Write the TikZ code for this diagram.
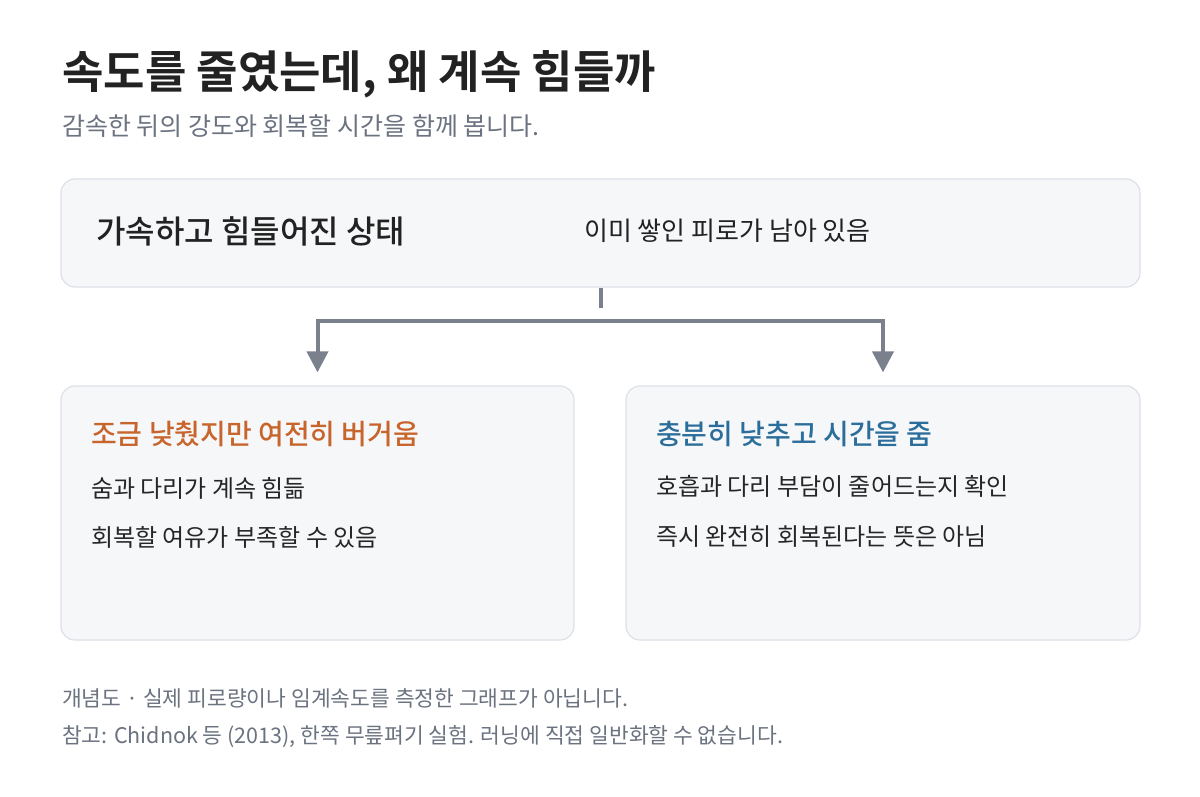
\documentclass[tikz,border=0pt]{standalone}
\usepackage{fontspec}
\setmainfont{Noto Sans CJK KR}[BoldFont={Noto Sans CJK KR Bold}, RawFeature=+palt]
\newfontfamily\medfont{Noto Sans CJK KR Medium}[RawFeature=+palt]
\usetikzlibrary{positioning, arrows.meta}
\definecolor{boxfill}{HTML}{F6F7F9}
\definecolor{boxline}{HTML}{DDE1E7}
\definecolor{linkgray}{HTML}{7B818C}
\definecolor{inkdark}{HTML}{222222}
\definecolor{inkbody}{HTML}{262626}
\definecolor{inkgray}{HTML}{6B7280}
\definecolor{warmorange}{HTML}{C8652C}
\definecolor{calmblue}{HTML}{2C6E9B}
\tikzset{panel/.style={draw=boxline, line width=1.2pt, fill=boxfill, rounded corners=14pt},
         lbl/.style={anchor=west, inner sep=0pt},
         headline/.style={lbl, font=\bfseries\fontsize{45}{49}\selectfont, text=inkdark},
         subline/.style={lbl, font=\fontsize{25}{29}\selectfont, text=inkgray},
         statetext/.style={lbl, font=\medfont\fontsize{32}{36}\selectfont, text=inkdark},
         notetext/.style={lbl, font=\fontsize{26}{30}\selectfont, text=inkdark},
         casehead/.style={lbl, font=\medfont\fontsize{28}{32}\selectfont},
         casetext/.style={lbl, font=\fontsize{24}{28}\selectfont, text=inkbody},
         foot/.style={lbl, font=\fontsize{21.5}{25}\selectfont, text=inkgray},
         flow/.style={draw=linkgray, line width=4pt, shorten <=13pt, shorten >=13pt},
         every arrow/.style={-{Triangle[width=21pt, length=21pt]}}}

\begin{document}
\begin{tikzpicture}[x=1pt, y=-1pt]
    \useasboundingbox[fill=white] (0,0) rectangle (1200,797);
    \node (title)[headline] at (62,74){속도를 줄였는데, 왜 계속 힘들까};
    \node (subtitle)[subline] at (62,126){감속한 뒤의 강도와 회복할 시간을 함께 봅니다.};
    % boxes
    \node (state)[panel, minimum width=1079pt, minimum height=108pt] at (600.5,233){};
    \node (slow)[panel, minimum width=513pt, minimum height=254pt] at (317.5,513){};
    \node (rest)[panel, minimum width=514pt, minimum height=254pt] at (883,513){};
    \node (statelbl)[statetext] at (96,231){가속하고 힘들어진 상태};
    \node (statenote)[notetext] at (584,231){이미 쌓인 피로가 남아 있음};
    \node (slowhead)[casehead, text=warmorange] at (91,434){조금 낮췄지만 여전히 버거움};
    \node (slowa)[casetext] at (91,488){숨과 다리가 계속 힘듦};
    \node (slowb)[casetext] at (91,537){회복할 여유가 부족할 수 있음};
    \node (resthead)[casehead, text=calmblue] at (656,434){충분히 낮추고 시간을 줌};
    \node (resta)[casetext] at (656,486){호흡과 다리 부담이 줄어드는지 확인};
    \node (restb)[casetext] at (656,537){즉시 완전히 회복된다는 뜻은 아님};
    % connectors
    \draw [flow, shorten <=0pt] (state.south) -- ++(0,33) coordinate (fork);
    \draw [flow, {Triangle[width=21pt, length=21pt]}-{Triangle[width=21pt, length=21pt]}] (slow.north) |- (fork) -| (rest.north);
    \node (foota)[foot] at (62,698){개념도 · 실제 피로량이나 임계속도를 측정한 그래프가 아닙니다.};
    \node (footb)[foot] at (62,737){참고: Chidnok 등 (2013), 한쪽 무릎펴기 실험. 러닝에 직접 일반화할 수 없습니다.};
\end{tikzpicture}
\end{document}
